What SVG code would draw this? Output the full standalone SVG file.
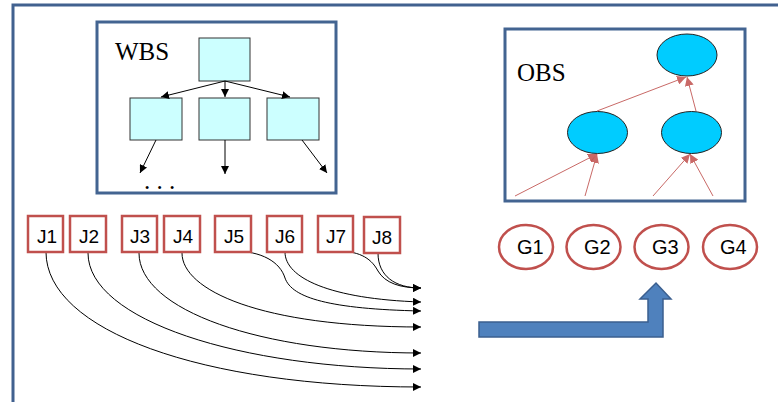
<svg xmlns="http://www.w3.org/2000/svg" width="778" height="402" viewBox="0 0 778 402">
<defs>
<style>
.frame{fill:#fff;stroke:#41618F;stroke-width:3}
.panel{fill:#fff;stroke:#436491;stroke-width:3}
.wb{fill:#CCFFFF;stroke:#333;stroke-width:1}
.ob{fill:#00CCFF;stroke:#222;stroke-width:1}
.blk{fill:none;stroke:#000;stroke-width:1}
.red{fill:none;stroke:#C0504D;stroke-width:1;opacity:0.85}
.jbox{fill:#fff;stroke:#C0504D;stroke-width:2.5}
.gell{fill:#fff;stroke:#C0504D;stroke-width:2.5}
.serif{font-family:"Liberation Serif",serif;font-size:25px;fill:#000}
.lbl{font-family:"Liberation Sans",sans-serif;font-size:19px;fill:#000}
.glbl{font-family:"Liberation Sans",sans-serif;font-size:20px;fill:#000}
</style>
<marker id="ab" viewBox="0 0 10 10" refX="10" refY="5" markerWidth="8" markerHeight="8" markerUnits="userSpaceOnUse" orient="auto"><path d="M0,0 L10,5 L0,10 z" fill="#000"/></marker>
<marker id="ar" viewBox="0 0 10 10" refX="10" refY="5" markerWidth="9" markerHeight="9" markerUnits="userSpaceOnUse" orient="auto"><path d="M0,0 L10,5 L0,10 z" fill="#C0504D"/></marker>
</defs>
<rect class="frame" x="13" y="5" width="800" height="500"/>

<g id="wbs">
<rect class="panel" x="97" y="22" width="239" height="171"/>
<text class="serif" x="115" y="60">WBS</text>
<rect class="wb" x="199" y="38" width="51" height="43"/>
<rect class="wb" x="130" y="98" width="52" height="42"/>
<rect class="wb" x="199" y="98" width="51" height="42"/>
<rect class="wb" x="267" y="98" width="52" height="42"/>
<text class="serif" x="144" y="189" font-size="16">. . .</text>
</g>

<g id="obs">
<rect class="panel" x="505" y="29" width="240" height="172"/>
<text class="serif" x="517" y="81">OBS</text>
<ellipse class="ob" cx="687" cy="55" rx="30" ry="21"/>
<ellipse class="ob" cx="597.5" cy="132.5" rx="30" ry="21"/>
<ellipse class="ob" cx="691.5" cy="132.5" rx="30" ry="21"/>
</g>

<g id="connectors">
<path class="blk" d="M225,81 L161,97" marker-end="url(#ab)"/>
<path class="blk" d="M225,81 L225,97" marker-end="url(#ab)"/>
<path class="blk" d="M225,81 L290,97" marker-end="url(#ab)"/>
<path class="blk" d="M156,140 L140,173" marker-end="url(#ab)"/>
<path class="blk" d="M225,140 L225,174" marker-end="url(#ab)"/>
<path class="blk" d="M302,140 L327,173" marker-end="url(#ab)"/>
<path class="red" d="M597,111 L686,77" marker-end="url(#ar)"/>
<path class="red" d="M696,111 L687,77" marker-end="url(#ar)"/>
<path class="red" d="M515,196 L597,154" marker-end="url(#ar)"/>
<path class="red" d="M585,196 L597,154" marker-end="url(#ar)"/>
<path class="red" d="M653,196 L690,154" marker-end="url(#ar)"/>
<path class="red" d="M713,196 L690,154" marker-end="url(#ar)"/>
<path class="blk" d="M46,252 C46,330 200,387 421,387" marker-end="url(#ab)"/>
<path class="blk" d="M88,253 C88,320 240,369 421,369" marker-end="url(#ab)"/>
<path class="blk" d="M139,253 C139,310 260,353 421,353" marker-end="url(#ab)"/>
<path class="blk" d="M182,253 C182,290 260,327 421,327" marker-end="url(#ab)"/>
<path class="blk" d="M233,251 C262,251 280,262 285,278 C292,298 330,309 421,311" marker-end="url(#ab)"/>
<path class="blk" d="M285,252 C285,278 330,299 421,302" marker-end="url(#ab)"/>
<path class="blk" d="M337,251 C362,251 372,260 378,271 C385,283 400,288 421,288" marker-end="url(#ab)"/>
<path class="blk" d="M378,253 C378,276 395,288 421,288" marker-end="url(#ab)"/>
</g>

<g id="jobs">
<g id="J1"><rect class="jbox" x="28" y="216" width="35" height="36"/><text class="lbl" x="37" y="243">J1</text></g>
<g id="J2"><rect class="jbox" x="70" y="216" width="36" height="36"/><text class="lbl" x="79" y="243">J2</text></g>
<g id="J3"><rect class="jbox" x="122" y="216" width="35" height="36"/><text class="lbl" x="130" y="243">J3</text></g>
<g id="J4"><rect class="jbox" x="164" y="216" width="36" height="36"/><text class="lbl" x="173" y="243">J4</text></g>
<g id="J5"><rect class="jbox" x="215" y="216" width="36" height="36"/><text class="lbl" x="224" y="243">J5</text></g>
<g id="J6"><rect class="jbox" x="267" y="216" width="35" height="36"/><text class="lbl" x="275" y="243">J6</text></g>
<g id="J7"><rect class="jbox" x="318" y="216" width="35" height="36"/><text class="lbl" x="326" y="243">J7</text></g>
<g id="J8"><rect class="jbox" x="364" y="217" width="36" height="36"/><text class="lbl" x="372" y="244">J8</text></g>
</g>

<g id="groups">
<g id="G1"><ellipse class="gell" cx="526" cy="247" rx="27" ry="22"/><text class="glbl" x="517" y="254">G1</text></g>
<g id="G2"><ellipse class="gell" cx="593.5" cy="247" rx="27" ry="22"/><text class="glbl" x="584" y="254">G2</text></g>
<g id="G3"><ellipse class="gell" cx="661.5" cy="247" rx="27" ry="22"/><text class="glbl" x="652" y="254">G3</text></g>
<g id="G4"><ellipse class="gell" cx="730" cy="247" rx="27" ry="22"/><text class="glbl" x="720" y="254">G4</text></g>
</g>

<g id="bent-arrow">
<path d="M479,322 L648,322 L648,299 L640,299 L656,283 L671,299 L663,299 L663,337 L479,337 Z" fill="#4F81BD" stroke="#3B5F8F" stroke-width="1.5"/>
</g>
</svg>
